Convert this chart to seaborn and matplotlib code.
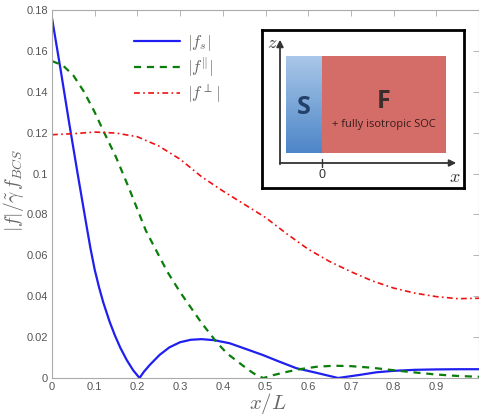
import numpy as np
import pandas as pd
import matplotlib
matplotlib.use("Agg")
import matplotlib.pyplot as plt
import seaborn as sns
from matplotlib.patches import Rectangle
from matplotlib.ticker import FormatStrFormatter

# |f_s| (blue, solid)
x_s = [0.0, 0.02, 0.04, 0.06, 0.08, 0.09, 0.1, 0.11, 0.12, 0.135, 0.147, 0.16, 0.175, 0.19, 0.205,
       0.215, 0.229, 0.252, 0.275, 0.3, 0.325, 0.35, 0.38, 0.416, 0.45,
       0.493, 0.53, 0.572, 0.62, 0.67, 0.72, 0.76, 0.8, 0.85, 0.9, 0.95, 1.0]
f_s = [0.176, 0.151, 0.125, 0.100, 0.0755, 0.0635, 0.053, 0.0445, 0.037, 0.0275, 0.021, 0.0148, 0.0088, 0.0038, 0.0,
       0.003, 0.0064, 0.0113, 0.015, 0.0175, 0.0187, 0.019, 0.0185, 0.017, 0.0145,
       0.0113, 0.0082, 0.0048, 0.0025, 0.0, 0.0015, 0.0028, 0.0035, 0.004, 0.0042, 0.0043, 0.0043]

# |f^par| (green, dashed)
x_par = [0.0, 0.025, 0.05, 0.075, 0.1, 0.12, 0.15, 0.18, 0.22, 0.25, 0.27, 0.3,
         0.32, 0.35, 0.386, 0.41, 0.43, 0.46, 0.48, 0.495, 0.52, 0.55, 0.58,
         0.62, 0.66, 0.7, 0.75, 0.8, 0.85, 0.9, 0.95, 1.0]
f_par = [0.155, 0.153, 0.148, 0.140, 0.130, 0.121, 0.108, 0.093, 0.072, 0.060, 0.052, 0.042,
         0.036, 0.027, 0.0174, 0.012, 0.0088, 0.004, 0.0012, 0.0, 0.0015, 0.003, 0.0043,
         0.0055, 0.006, 0.0058, 0.005, 0.0038, 0.0027, 0.0017, 0.001, 0.0006]

# |f^perp| (red, dash-dot)
x_perp = [0.0, 0.05, 0.1, 0.15, 0.2, 0.25, 0.3, 0.35, 0.4, 0.45, 0.5, 0.55,
          0.6, 0.65, 0.7, 0.75, 0.8, 0.85, 0.9, 0.95, 1.0]
f_perp = [0.119, 0.1195, 0.1203, 0.1198, 0.118, 0.1135, 0.107, 0.0985, 0.0915, 0.085, 0.0785, 0.0705,
          0.063, 0.057, 0.052, 0.0475, 0.044, 0.0415, 0.0398, 0.0388, 0.039]

x_ticks = [0, 0.1, 0.2, 0.3, 0.4, 0.5, 0.6, 0.7, 0.8, 0.9]
y_ticks = [0, 0.02, 0.04, 0.06, 0.08, 0.1, 0.12, 0.14, 0.16, 0.18]

sns.set_style("white")
plt.rcParams["font.family"] = ["Liberation Sans", "DejaVu Sans"]
plt.rcParams["mathtext.fontset"] = "cm"

grey = "#666666"

fig = plt.figure(figsize=(4.79, 4.17), dpi=100)
ax = fig.add_axes([52 / 479, 39 / 417, 427 / 479, 368 / 417])

df_s = pd.DataFrame({"x": x_s, "f": f_s})
df_par = pd.DataFrame({"x": x_par, "f": f_par})
df_perp = pd.DataFrame({"x": x_perp, "f": f_perp})

sns.lineplot(data=df_s, x="x", y="f", ax=ax, color="#1f1ff0", lw=1.6,
             label=r"$|f_s|$", estimator=None, sort=False)
sns.lineplot(data=df_par, x="x", y="f", ax=ax, color="#0a7d0a", lw=1.6,
             label=r"$|f^{\Vert}|$", estimator=None, sort=False)
ax.lines[-1].set_dashes([3.2, 2.6])
sns.lineplot(data=df_perp, x="x", y="f", ax=ax, color="#ee1111", lw=1.2,
             label=r"$|f^{\perp}|$", estimator=None, sort=False)
ax.lines[-1].set_dashes([3.5, 2.0, 1.0, 2.0])

ax.set_xlim(0, 1)
ax.set_ylim(0, 0.18)
ax.set_xticks(x_ticks)
ax.set_yticks(y_ticks)
ax.xaxis.set_major_formatter(FormatStrFormatter("%g"))
ax.yaxis.set_major_formatter(FormatStrFormatter("%g"))
ax.tick_params(direction="in", top=True, right=True, length=4, width=0.6,
               colors="#aaaaaa", labelcolor="#555555", labelsize=8, pad=3)
for sp in ax.spines.values():
    sp.set_color("#aaaaaa")
    sp.set_linewidth(0.8)

ax.set_xlabel(r"$x/L$", fontsize=15, color=grey)
ax.xaxis.set_label_coords(0.505, -0.035)
ax.set_ylabel(r"$|f|/\tilde{\gamma}\, f_{BCS}$", fontsize=14, color=grey)
ax.yaxis.set_label_coords(-0.062, 0.51)

leg = ax.legend(loc="upper left", bbox_to_anchor=(122 / 479, 1 - 21 / 417),
                bbox_transform=fig.transFigure, frameon=False, fontsize=12,
                handlelength=2.8, labelspacing=0.16, handletextpad=0.4,
                borderpad=0.2)
for t in leg.get_texts():
    t.set_color(grey)

# inset schematic
ins = fig.add_axes([262 / 479, 1 - 188 / 417, 202 / 479, 158 / 417])
ins.set_xlim(0, 202)
ins.set_ylim(158, 0)
ins.set_xticks([])
ins.set_yticks([])
for sp in ins.spines.values():
    sp.set_color("black")
    sp.set_linewidth(2.0)
ins.set_facecolor("white")

grad = np.linspace(0, 1, 64).reshape(-1, 1)
blues = matplotlib.colors.LinearSegmentedColormap.from_list("sb", ["#a9c7e8", "#4d86c8"])
ins.imshow(grad, cmap=blues, extent=(24, 60, 123, 26), aspect="auto", zorder=1)
ins.add_patch(Rectangle((60, 26), 124, 97, facecolor="#d46c68", edgecolor="none", zorder=1))

ins.annotate("", xy=(18, 7), xytext=(18, 137),
             arrowprops=dict(arrowstyle="-|>", color="#333333", lw=1.3, mutation_scale=10))
ins.annotate("", xy=(197, 133), xytext=(15, 133),
             arrowprops=dict(arrowstyle="-|>", color="#333333", lw=1.3, mutation_scale=10))
ins.plot([60, 60], [129, 137], color="#333333", lw=1.0)
ins.text(60, 139, "0", ha="center", va="top", fontsize=9, color="#333333")
ins.text(10, 14, r"$z$", ha="center", va="center", fontsize=13, color="#333333")
ins.text(193, 148, r"$x$", ha="center", va="center", fontsize=13, color="#333333")
ins.text(42, 77, "S", ha="center", va="center", fontsize=18, fontweight="bold",
         color="#22406a", family=["Open Sans", "DejaVu Sans"])
ins.text(122, 72, "F", ha="center", va="center", fontsize=18, fontweight="bold",
         color="#3c2c2c", family=["Open Sans", "DejaVu Sans"])
ins.text(122, 95, "+ fully isotropic SOC", ha="center", va="center", fontsize=8,
         color="#3a1c1c", family=["Open Sans", "DejaVu Sans"])

fig.savefig("out.png", dpi=100)
